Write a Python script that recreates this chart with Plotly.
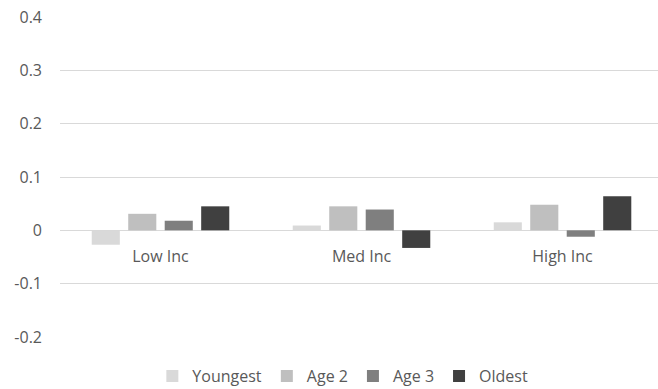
import plotly.graph_objects as go

categories = ["Low Inc", "Med Inc", "High Inc"]
series_names = ["Youngest", "Age 2", "Age 3", "Oldest"]
youngest = [-0.027, 0.009, 0.015]
age2 = [0.031, 0.045, 0.048]
age3 = [0.018, 0.039, -0.012]
oldest = [0.045, -0.033, 0.064]
y_ticks = [-0.2, -0.1, 0, 0.1, 0.2, 0.3, 0.4]
y_tick_labels = ["-0.2", "-0.1", "0", "0.1", "0.2", "0.3", "0.4"]

colors = ["#d9d9d9", "#bfbfbf", "#7f7f7f", "#404040"]
font_family = "'Open Sans', sans-serif"
text_color = "#595959"

fig = go.Figure()
for name, vals, col in zip(series_names, [youngest, age2, age3, oldest], colors):
    fig.add_trace(go.Bar(x=categories, y=vals, name=name, marker_color=col,
                         marker_line_width=0))

fig.update_layout(
    width=658, height=389,
    margin=dict(l=60, r=0, t=17, b=52, autoexpand=False),
    paper_bgcolor="white", plot_bgcolor="white",
    barmode="group", bargap=0.274, bargroupgap=0.23,
    font=dict(family=font_family, size=16, color=text_color),
    legend=dict(orientation="h", xref="paper", x=0.473, xanchor="center",
                yref="container", y=0.033, yanchor="middle",
                font=dict(size=16, color=text_color), itemwidth=30,
                traceorder="normal"),
    xaxis=dict(range=[-0.5, 2.475], anchor="free", position=1/3,
               showline=False, ticks="", showgrid=False, automargin=False,
               ticklabelstandoff=15,
               tickfont=dict(size=16, color=text_color)),
    yaxis=dict(range=[-0.2, 0.4], tickvals=y_ticks, ticktext=y_tick_labels,
               showgrid=True, gridcolor="#d9d9d9", gridwidth=1,
               zeroline=True, zerolinecolor="#d9d9d9", zerolinewidth=1,
               showline=False, ticks="", ticklabelstandoff=17, automargin=False,
               tickfont=dict(size=16, color=text_color)),
)

fig.write_html("out.html")
